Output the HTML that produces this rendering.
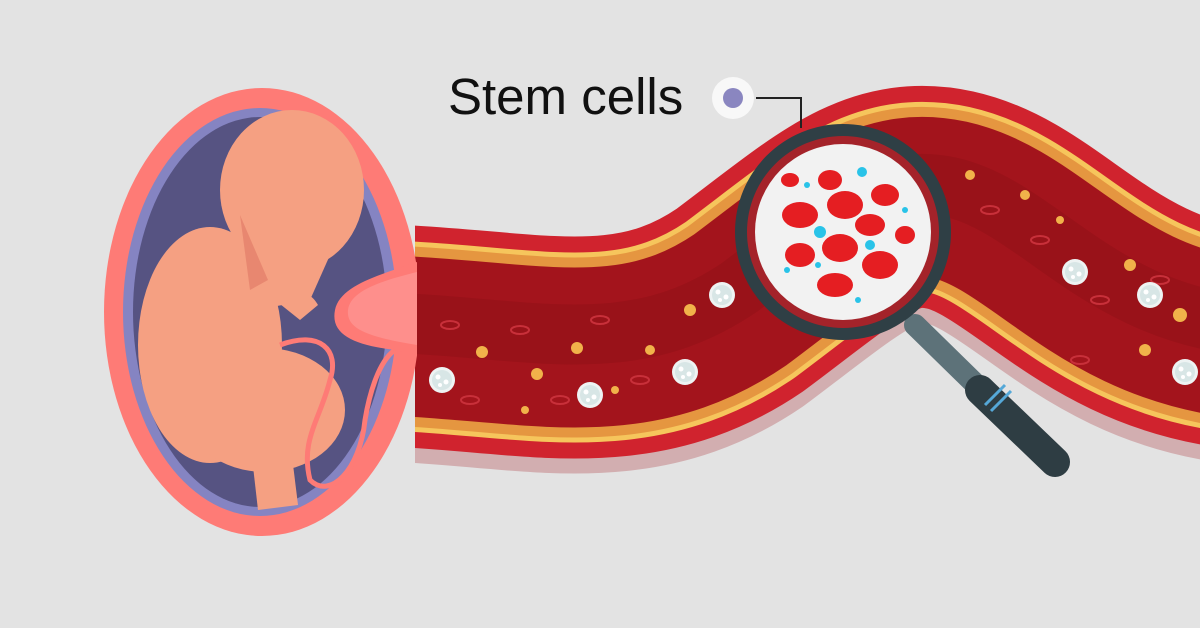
<!DOCTYPE html>
<html><head><meta charset="utf-8"><style>
html,body{margin:0;padding:0;background:#e3e3e3;}
svg{display:block}
</style></head><body>
<svg width="1200" height="628" viewBox="0 0 1200 628" xmlns="http://www.w3.org/2000/svg">
<rect width="1200" height="628" fill="#e3e3e3"/>
<defs>
<clipPath id="vc"><rect x="415" y="0" width="800" height="628"/></clipPath>
<clipPath id="wc"><rect x="0" y="0" width="417" height="628"/></clipPath>
<clipPath id="lens"><circle cx="843" cy="232" r="88"/></clipPath>
<g id="wbc"><circle r="13" fill="#eef3f3"/><circle r="10" fill="#d8e6e6"/><circle cx="-4" cy="-3" r="2.5" fill="#fff"/><circle cx="4" cy="2" r="2.5" fill="#fff"/><circle cx="-2" cy="5" r="2" fill="#fff"/></g>
</defs>
<!-- vessel -->
<g clip-path="url(#vc)">
<path id="p0" d="M380,350 C530,355 630,390 740,315 C840,240 880,200 950,215 C1040,235 1100,345 1260,355" fill="none" stroke="#d2aeb0" stroke-width="222"/>
<g fill="none">
<path d="M380,335 C530,340 630,375 740,300 C840,225 880,185 950,200 C1040,220 1100,330 1260,340" stroke="#d0232e" stroke-width="222"/>
<path d="M380,335 C530,340 630,375 740,300 C840,225 880,185 950,200 C1040,220 1100,330 1260,340" stroke="#f6c55c" stroke-width="190"/>
<path d="M380,335 C530,340 630,375 740,300 C840,225 880,185 950,200 C1040,220 1100,330 1260,340" stroke="#e59640" stroke-width="180"/>
<path d="M380,335 C530,340 630,375 740,300 C840,225 880,185 950,200 C1040,220 1100,330 1260,340" stroke="#a3141c" stroke-width="160"/>
<path d="M380,322 C530,327 630,362 740,287 C840,212 880,172 950,187 C1040,207 1100,317 1260,327" stroke="#8f1016" stroke-width="60" opacity="0.5"/>
</g>
<g fill="#f1b24a">
<circle cx="482" cy="352" r="6"/><circle cx="577" cy="348" r="6"/><circle cx="537" cy="374" r="6"/><circle cx="690" cy="310" r="6"/><circle cx="650" cy="350" r="5"/><circle cx="970" cy="175" r="5"/><circle cx="1025" cy="195" r="5"/><circle cx="1130" cy="265" r="6"/><circle cx="1180" cy="315" r="7"/><circle cx="1145" cy="350" r="6"/><circle cx="1060" cy="220" r="4"/><circle cx="615" cy="390" r="4"/><circle cx="525" cy="410" r="4"/>
</g>
<g fill="none" stroke="#c8303a" stroke-width="2">
<ellipse cx="450" cy="325" rx="9" ry="4"/><ellipse cx="520" cy="330" rx="9" ry="4"/><ellipse cx="600" cy="320" rx="9" ry="4"/><ellipse cx="470" cy="400" rx="9" ry="4"/><ellipse cx="560" cy="400" rx="9" ry="4"/><ellipse cx="640" cy="380" rx="9" ry="4"/><ellipse cx="990" cy="210" rx="9" ry="4"/><ellipse cx="1040" cy="240" rx="9" ry="4"/><ellipse cx="1100" cy="300" rx="9" ry="4"/><ellipse cx="1160" cy="280" rx="9" ry="4"/><ellipse cx="1080" cy="360" rx="9" ry="4"/>
</g>
<use href="#wbc" x="442" y="380"/><use href="#wbc" x="590" y="395"/><use href="#wbc" x="685" y="372"/><use href="#wbc" x="722" y="295"/><use href="#wbc" x="1075" y="272"/><use href="#wbc" x="1150" y="295"/><use href="#wbc" x="1185" y="372"/>
</g>
<!-- womb -->
<g clip-path="url(#wc)">
<ellipse cx="262" cy="312" rx="158" ry="224" fill="#fe7b76"/>
<ellipse cx="260" cy="312" rx="137" ry="204" fill="#8584c2"/>
<ellipse cx="260" cy="312" rx="127" ry="195" fill="#565382"/>
<path d="M417,262 C380,275 340,285 335,310 C330,335 355,345 395,350 L417,355 Z" fill="#fe7b76"/>
<path d="M417,272 C385,280 350,290 348,310 C346,330 370,337 417,345 Z" fill="#fe8f8c"/>
</g>
<!-- fetus -->
<g fill="#f5a082">
<ellipse cx="292" cy="190" rx="72" ry="80"/>
<path d="M245,230 L330,255 L310,300 L255,310 Z"/>
<ellipse cx="210" cy="345" rx="72" ry="118"/>
<ellipse cx="265" cy="410" rx="80" ry="62"/>
<path d="M250,440 L290,440 L298,505 L258,510 Z"/>
<path d="M275,300 C290,285 310,290 318,305 L300,320 Z"/>
</g>
<path d="M240,215 L250,290 L268,280 Z" fill="#e88770"/>
<path d="M280,345 C320,330 340,350 330,380 C320,420 300,440 310,480 C330,500 360,470 365,420 C370,390 380,360 395,350" fill="none" stroke="#fe7b76" stroke-width="5"/>
<!-- magnifier -->
<line x1="915" y1="325" x2="1055" y2="462" stroke="#5d7279" stroke-width="22" stroke-linecap="round"/>
<line x1="980" y1="390" x2="1055" y2="462" stroke="#2e3d43" stroke-width="30" stroke-linecap="round"/>
<line x1="985" y1="405" x2="1005" y2="385" stroke="#55a8d8" stroke-width="3"/>
<line x1="991" y1="411" x2="1011" y2="391" stroke="#55a8d8" stroke-width="3"/>
<circle cx="843" cy="232" r="108" fill="#2f3f45"/>
<circle cx="843" cy="232" r="96" fill="#a4232a"/>
<circle cx="843" cy="232" r="88" fill="#f2f2f2"/>
<g clip-path="url(#lens)">
<g fill="#e51e22">
<ellipse cx="830" cy="180" rx="12" ry="10"/><ellipse cx="800" cy="215" rx="18" ry="13"/><ellipse cx="845" cy="205" rx="18" ry="14"/><ellipse cx="885" cy="195" rx="14" ry="11"/><ellipse cx="870" cy="225" rx="15" ry="11"/><ellipse cx="800" cy="255" rx="15" ry="12"/><ellipse cx="840" cy="248" rx="18" ry="14"/><ellipse cx="880" cy="265" rx="18" ry="14"/><ellipse cx="905" cy="235" rx="10" ry="9"/><ellipse cx="835" cy="285" rx="18" ry="12"/><ellipse cx="790" cy="180" rx="9" ry="7"/>
</g>
<g fill="#29c3e8"><circle cx="820" cy="232" r="6"/><circle cx="862" cy="172" r="5"/><circle cx="807" cy="185" r="3"/><circle cx="870" cy="245" r="5"/><circle cx="905" cy="210" r="3"/><circle cx="787" cy="270" r="3"/><circle cx="818" cy="265" r="3"/><circle cx="858" cy="300" r="3"/></g>
</g>
<!-- label -->
<text x="448" y="114" font-family="Liberation Sans, sans-serif" font-size="51" fill="#111">Stem cells</text>
<circle cx="733" cy="98" r="21" fill="#f8f8f8"/>
<circle cx="733" cy="98" r="10" fill="#8a86c0"/>
<polyline points="756,98 801,98 801,128" fill="none" stroke="#222" stroke-width="2"/>
</svg>
</body></html>
